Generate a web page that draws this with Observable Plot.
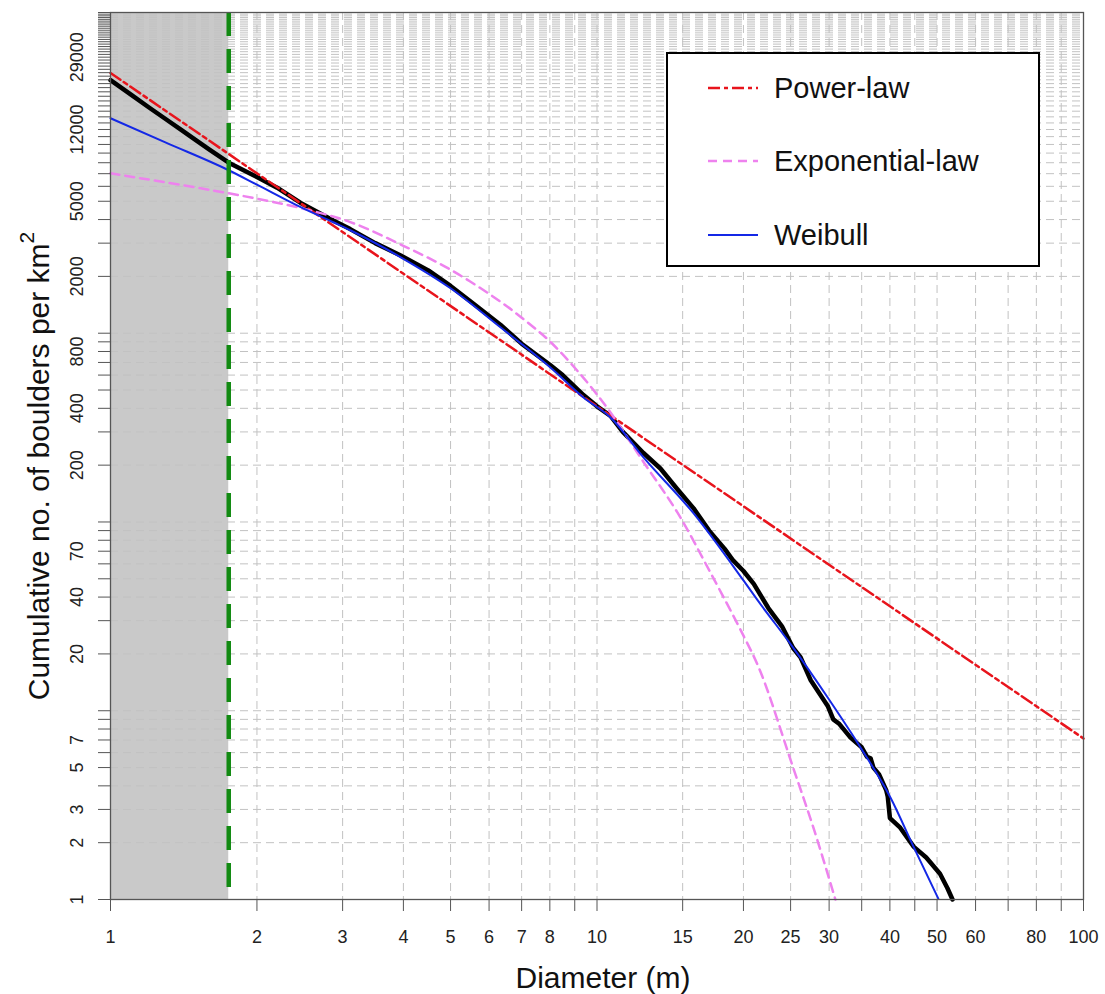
<!DOCTYPE html>
<html><head><meta charset="utf-8">
<script src="https://cdn.jsdelivr.net/npm/d3@7"></script>
<script src="https://cdn.jsdelivr.net/npm/@observablehq/plot@0.6"></script>
<style>
body{margin:0;background:#fff;}
#wrap{position:relative;width:1105px;height:994px;font-family:"Liberation Sans",Arial,sans-serif;}
#legend{position:absolute;left:666px;top:52px;width:370px;height:211px;border:2px solid #000;background:#fff;}
</style></head>
<body><div id="wrap"></div>
<script>
// Axis ticks and labels
const xTicks = [1,2,3,4,5,6,7,8,9,10,15,20,25,30,35,40,45,50,60,70,80,90,100];
const xLabels = [1,2,3,4,5,6,7,8,10,15,20,25,30,40,50,60,80,100];
const yTicks = [1,2,3,4,5,6,7,8,9,10,20,30,40,50,60,70,80,90,100,200,300,400,500,600,700,800,900,
  1000,2000,3000,4000,5000,6000,7000,8000,9000,10000,11000,12000,13000,14000,15000,16000,17000,18000,19000,
  20000,21000,22000,23000,24000,25000,26000,27000,28000,29000,30000,31000,32000,33000,34000,35000,36000,37000,
  38000,39000,40000,41000,42000,43000,44000,45000,46000,47000,48000,49000,50000];
const yLabels = [1,2,3,5,7,20,40,70,200,400,800,2000,5000,12000,29000];

// Resolution cutoff (shaded region)
const cutoffD = 1.75;

// Observed cumulative counts
const obsD = [1.0,1.1,1.2,1.3,1.4,1.5,1.6,1.75,1.94,2.2,2.46,2.87,3.11,3.5,3.95,4.5,5.0,5.6,6.33,7.0,8.0,8.5,9.38,10.0,10.66,11.3,12.46,13.5,14.6,15.8,17.0,18.3,19.0,20.0,21.0,22.5,24.0,25.3,26.2,27.5,28.5,29.8,30.6,31.5,33.2,35.0,35.9,36.5,37.0,38.0,39.3,39.6,40.0,42.0,44.8,47.5,50.7,52.5,53.8];
const obsN = [21900,18400,15700,13600,11900,10500,9350,8000,7000,5900,4900,3950,3560,3000,2580,2150,1780,1420,1110,880,680,600,470,410,365,300,232,192,150,118,90,72,63,55,47,35,28,21.5,19.2,14.5,12.6,10.6,9.0,8.5,7.2,6.4,5.7,5.6,5.0,4.6,3.8,3.5,2.7,2.4,1.9,1.67,1.37,1.15,1.0];

// Power-law fit
const powD = [1, 10, 100];
const powN = [23900, 410, 7.13];

// Exponential-law fit
const expD = [1,1.75,2.46,3.11,3.95,5.0,6.33,7.2,8.02,9.38,10.66,12.46,14.64,17.1,20.0,21.7,25.3,28.0,30.9];
const expN = [7030,5510,4600,3880,2950,2170,1470,1140,900,580,380,208,112,54,25,16,5.0,2.3,1.0];

// Weibull fit
const weibD = [1,1.3,1.75,2.0,2.46,2.87,3.11,3.95,5.0,6.33,8.02,9.38,10.66,12.46,15.8,20,21.4,25.3,29.8,34.8,40.1,44.8,50.3];
const weibN = [13770,10230,7300,6120,4650,3870,3510,2524,1730,1075,659,457,358,220,111,49,38.4,21.6,11.75,6.39,3.47,1.89,1.01];

const legendItems = ["Power-law","Exponential-law","Weibull"];

const zip = (a,b) => a.map((d,i)=>({d, n:b[i]}));
const obs = zip(obsD, obsN), pow = zip(powD, powN), expo = zip(expD, expN), weib = zip(weibD, weibN);

const gridStyle = {stroke:"#c2c2c2", strokeWidth:1, strokeDasharray:"8,5"};
const font = '"Liberation Sans", Arial, sans-serif';

const chart = Plot.plot({
  width:1105, height:994,
  marginLeft:110, marginRight:22, marginTop:12, marginBottom:95,
  style:{fontFamily:font, background:"transparent", color:"#222"},
  x:{type:"log", domain:[1,100]},
  y:{type:"log", domain:[1,50000]},
  marks:[
    Plot.rect([{x1:1, x2:cutoffD, y1:1, y2:50000}], {x1:"x1", x2:"x2", y1:"y1", y2:"y2", fill:"#c9c9c9"}),
    Plot.ruleY(yTicks, gridStyle),
    Plot.ruleX(xTicks, gridStyle),
    Plot.line(obs, {x:"d", y:"n", stroke:"#000", strokeWidth:4.5}),
    Plot.line(pow, {x:"d", y:"n", stroke:"#e8141c", strokeWidth:2.5, strokeDasharray:"12,4,4,4"}),
    Plot.line(expo, {x:"d", y:"n", stroke:"#ee82ee", strokeWidth:2.5, strokeDasharray:"9,6", curve:"catmull-rom"}),
    Plot.line(weib, {x:"d", y:"n", stroke:"#1428e6", strokeWidth:2, curve:"monotone-x"}),
    Plot.ruleX([cutoffD], {stroke:"#128a12", strokeWidth:4.5, strokeDasharray:"24,13"}),
    Plot.frame({stroke:"#555", strokeWidth:1.3}),
    Plot.axisX({ticks:xTicks, tickSize:12, tickFormat:()=>"", label:null, stroke:"#555"}),
    Plot.axisY({ticks:yTicks, tickSize:12, tickFormat:()=>"", label:null, stroke:"#555"}),
    Plot.text(xLabels, {x:d=>d, text:d=>String(d), frameAnchor:"bottom", dy:31, lineAnchor:"top", fontSize:18, fill:"#222"}),
    Plot.text(yLabels, {y:d=>d, text:d=>String(d), frameAnchor:"left", dx:-28, rotate:-90, lineAnchor:"bottom", textAnchor:"middle", fontSize:18, fill:"#222"})
  ]
});

const svg = d3.select(chart);
svg.append("text").attr("x",603).attr("y",988).attr("text-anchor","middle")
  .attr("font-size",30).attr("fill","#111").text("Diameter (m)");
const yt = svg.append("text").attr("transform","translate(49,466) rotate(-90)")
  .attr("text-anchor","middle").attr("font-size",30).attr("fill","#111");
yt.append("tspan").text("Cumulative no. of boulders per km");
yt.append("tspan").attr("dy",-15).attr("font-size",21).text("2");

const wrap = document.getElementById("wrap");
wrap.appendChild(chart);

// Legend
const leg = document.createElement("div");
leg.id = "legend";
wrap.appendChild(leg);
const lsvg = d3.select(leg).append("svg").attr("width",370).attr("height",211);
const legStyles = [
  {stroke:"#e8141c", dash:"12,4,4,4", w:2.5},
  {stroke:"#ee82ee", dash:"9,6", w:2.5},
  {stroke:"#1428e6", dash:null, w:2}
];
const rowsY = [34,107,181];
legendItems.forEach((name,i)=>{
  const s = legStyles[i];
  const ln = lsvg.append("line").attr("x1",40).attr("x2",90).attr("y1",rowsY[i]).attr("y2",rowsY[i])
    .attr("stroke",s.stroke).attr("stroke-width",s.w);
  if (s.dash) ln.attr("stroke-dasharray",s.dash);
  lsvg.append("text").attr("x",106).attr("y",rowsY[i]).attr("dy","0.35em")
    .attr("font-size",29).attr("fill","#111").attr("font-family",font).text(name);
});
</script></body></html>
